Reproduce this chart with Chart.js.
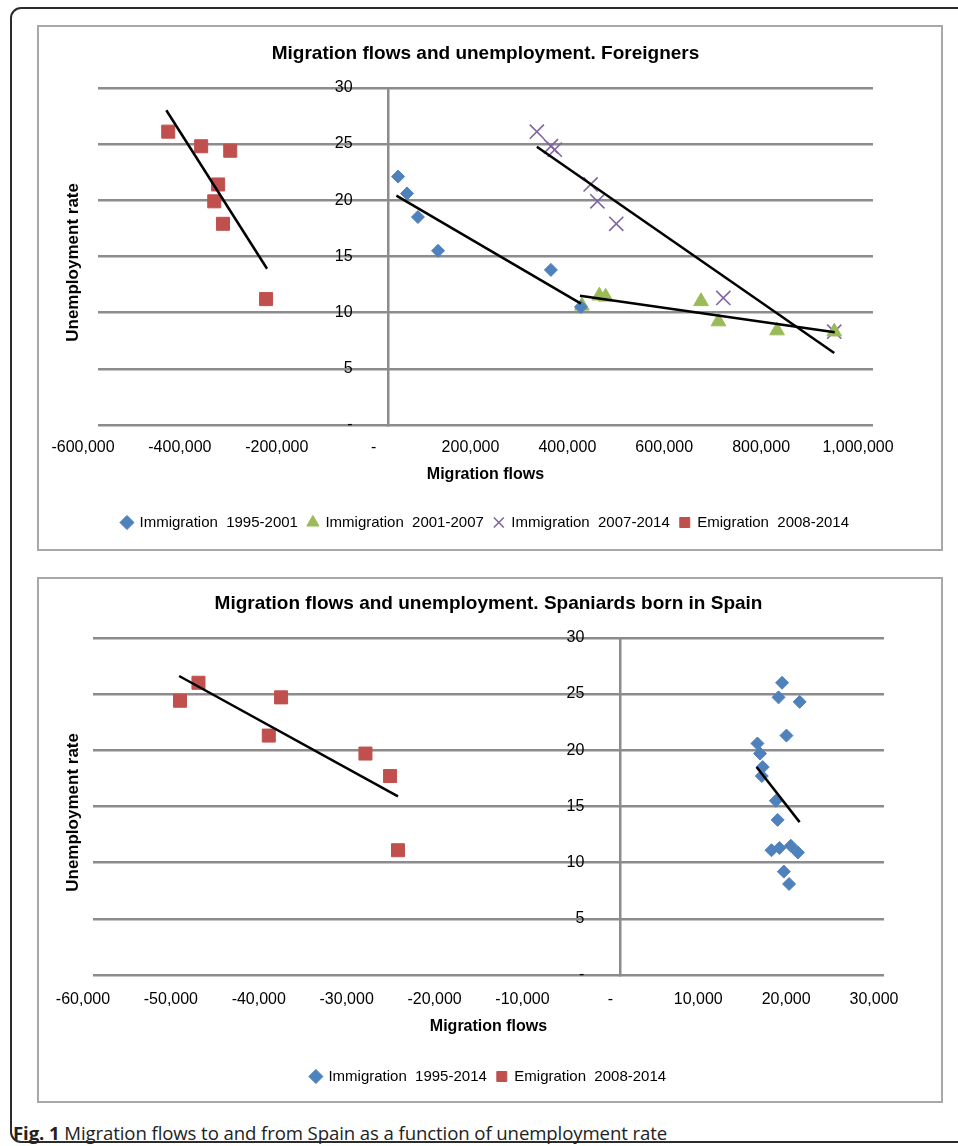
<!DOCTYPE html>
<html>
<head>
<meta charset="utf-8">
<script src="https://cdn.jsdelivr.net/npm/chart.js@4.4.1/dist/chart.umd.min.js"></script>
<style>
    html, body { margin: 0; padding: 0; background: #fff; overflow: hidden; }
    body { width: 958px; height: 1146px; position: relative; }
    .frame { position: absolute; left: 10px; top: 7px; width: 1000px; height: 1136px; border: 2px solid #2b2b2b; border-radius: 11px; box-sizing: border-box; }
    .box { position: absolute; left: 37px; width: 906px; height: 526px; border: 2px solid #a8a8a8; box-sizing: border-box; }
    canvas { position: absolute; left: 37px; }
    .caption { position: absolute; left: 13px; top: 1120px; font-family: "Open Sans", sans-serif; font-size: 18.6px; color: #222; white-space: nowrap; letter-spacing: -0.1px; }
    .caption b { font-weight: 700; }
</style>
</head>
<body>
<div class="frame"></div>
<div class="box" style="top:25px"></div>
<div class="box" style="top:577px"></div>
<canvas id="foreignChart" width="906" height="526" style="top:25px"></canvas>
<canvas id="spainChart" width="906" height="526" style="top:577px"></canvas>
<div class="caption"><b>Fig. 1</b> Migration flows to and from Spain as a function of unemployment rate</div>

<script>
// Foreigners
const foreignImm9501X = [19500, 38000, 60500, 102000, 335000, 397000];
const foreignImm9501Y = [22.1, 20.6, 18.5, 15.5, 13.8, 10.5];
const foreignImm0107X = [399000, 435000, 448000, 645000, 681000, 802000, 920000];
const foreignImm0107Y = [10.6, 11.5, 11.4, 11.0, 9.2, 8.4, 8.3];
const foreignImm0714X = [306000, 335000, 343000, 417000, 431000, 470000, 691000, 920000];
const foreignImm0714Y = [26.1, 24.8, 24.5, 21.4, 19.9, 17.9, 11.3, 8.3];
const foreignEmiX = [-455000, -387000, -327000, -352000, -360000, -342000, -253000];
const foreignEmiY = [26.1, 24.8, 24.4, 21.4, 19.9, 17.9, 11.2];

// trend lines (end points)
const foreignTrend9501 = [[16000, 20.4], [397000, 10.8]];
const foreignTrend0107 = [[395000, 11.5], [921000, 8.25]];
const foreignTrend0714 = [[306000, 24.75], [920000, 6.4]];
const foreignTrendEmi = [[-459000, 28.0], [-251000, 13.9]];

// Spaniards born in Spain
const spainImmX = [18400, 18000, 20400, 18900, 15600, 15900, 16200, 16100, 17700, 17900, 17200, 18100, 19400, 20200, 18600, 19200];
const spainImmY = [26.0, 24.7, 24.3, 21.3, 20.6, 19.7, 18.5, 17.7, 15.5, 13.8, 11.1, 11.3, 11.5, 10.9, 9.2, 8.1];
const spainEmiX = [-50100, -48000, -38600, -40000, -29000, -26200, -25300];
const spainEmiY = [24.4, 26.0, 24.7, 21.3, 19.7, 17.7, 11.1];
const spainTrendImm = [[15500, 18.5], [20400, 13.6]];
const spainTrendEmi = [[-50200, 26.6], [-25300, 15.9]];

const foreignXTicks = [-600000, 1000000, 200000];   // min, max, step
const spainXTicks = [-60000, 30000, 10000];
const yTicks = [0, 30, 5];

const BLUE = '#4f81bd', RED = '#c0504d', GREEN = '#9bbb59', PURPLE = '#8064a2';
const GRID = '#8c8c8c';
const FONT = '"Liberation Sans", Arial, sans-serif';

Chart.defaults.font.family = FONT;
Chart.defaults.color = '#000';

function toPoints(xs, ys) {
    return xs.map((x, i) => ({x: x, y: ys[i]}));
}

function trend(pts) {
    return {
        type: 'line',
        label: '',
        data: pts.map(p => ({x: p[0], y: p[1]})),
        borderColor: '#000',
        borderWidth: 2.5,
        pointRadius: 0,
        fill: false,
        order: 0
    };
}

function series(label, xs, ys, color, style, radius) {
    return {
        label: label,
        data: toPoints(xs, ys),
        backgroundColor: color,
        borderColor: color,
        borderWidth: style === 'crossRot' ? 1.6 : 1,
        pointStyle: style,
        pointRadius: radius,
        pointHoverRadius: radius,
        order: 1
    };
}

function fmt(v) {
    if (v === 0) return '-';
    return v.toLocaleString('en-US');
}

// y title on the left, y tick labels next to the x = 0 axis line
const axisTextPlugin = {
    id: 'axisText',
    afterDraw(chart, args, opts) {
        const ctx = chart.ctx;
        const area = chart.chartArea;
        const yScale = chart.scales.y;
        const axisX = chart.scales.x.getPixelForValue(0);

        ctx.save();
        ctx.fillStyle = '#000';
        ctx.font = '16px ' + FONT;
        ctx.textAlign = 'right';
        ctx.textBaseline = 'middle';
        yScale.ticks.forEach(t => {
            ctx.fillText(fmt(t.value), axisX - 36, yScale.getPixelForValue(t.value));
        });

        ctx.translate(opts.x, (area.top + area.bottom) / 2 + opts.shift);
        ctx.rotate(-Math.PI / 2);
        ctx.font = 'bold 17px ' + FONT;
        ctx.textAlign = 'center';
        ctx.fillText('Unemployment rate', 0, 0);
        ctx.restore();
    }
};

function makeChart(canvasId, title, datasets, xTicks, lay) {
    const ctx = document.getElementById(canvasId).getContext('2d');
    return new Chart(ctx, {
        type: 'scatter',
        data: {datasets: datasets},
        plugins: [axisTextPlugin],
        options: {
            responsive: false,
            animation: false,
            layout: {padding: {left: lay.left, right: lay.right, top: 0, bottom: lay.bottom}},
            plugins: {
                tooltip: {enabled: false},
                axisText: {x: 36, shift: 6},
                title: {
                    display: true,
                    text: title,
                    color: '#000',
                    font: {size: 19, weight: 'bold'},
                    padding: {top: lay.titleTop, bottom: lay.titleBottom}
                },
                legend: {
                    position: 'bottom',
                    labels: {
                        usePointStyle: true,
                        boxWidth: 10,
                        boxHeight: 10,
                        padding: 10,
                        font: {size: 15},
                        filter: item => item.text !== ''
                    }
                }
            },
            scales: {
                x: {
                    type: 'linear',
                    min: xTicks[0],
                    max: xTicks[1],
                    grid: {display: false, drawTicks: false},
                    border: {display: false},
                    ticks: {
                        stepSize: xTicks[2],
                        autoSkip: false,
                        maxRotation: 0,
                        padding: lay.tickPad,
                        labelOffset: lay.labelOffset,
                        font: {size: 16},
                        callback: v => fmt(v)
                    },
                    title: {
                        display: true,
                        text: 'Migration flows',
                        font: {size: 16, weight: 'bold'},
                        padding: {top: lay.xTitleTop, bottom: lay.xTitleBottom}
                    }
                },
                y: {
                    type: 'linear',
                    position: {x: 0},
                    min: yTicks[0],
                    max: yTicks[1],
                    grid: {color: GRID, lineWidth: 2.5, drawTicks: false},
                    border: {display: true, color: GRID, width: 2.5},
                    ticks: {stepSize: yTicks[2], display: false}
                }
            }
        }
    });
}

makeChart('foreignChart', 'Migration flows and unemployment. Foreigners', [
    trend(foreignTrend9501),
    trend(foreignTrend0107),
    trend(foreignTrend0714),
    trend(foreignTrendEmi),
    series('Immigration  1995-2001', foreignImm9501X, foreignImm9501Y, BLUE, 'rectRot', 6.5),
    series('Immigration  2001-2007', foreignImm0107X, foreignImm0107Y, GREEN, 'triangle', 8.5),
    series('Immigration  2007-2014', foreignImm0714X, foreignImm0714Y, PURPLE, 'crossRot', 10),
    series('Emigration  2008-2014', foreignEmiX, foreignEmiY, RED, 'rect', 9.2)
], foreignXTicks, {
    left: 61, right: 70, bottom: 11, titleTop: 17, titleBottom: 23,
    tickPad: 13, labelOffset: -15, xTitleTop: -4.8, xTitleBottom: 20.4
});

makeChart('spainChart', 'Migration flows and unemployment. Spaniards born in Spain', [
    trend(spainTrendImm),
    trend(spainTrendEmi),
    series('Immigration  1995-2014', spainImmX, spainImmY, BLUE, 'rectRot', 6.5),
    series('Emigration  2008-2014', spainEmiX, spainEmiY, RED, 'rect', 9.2)
], spainXTicks, {
    left: 56, right: 59, bottom: 9, titleTop: 15, titleBottom: 23,
    tickPad: 15, labelOffset: -10, xTitleTop: -6.8, xTitleBottom: 22.4
});
</script>
</body>
</html>
